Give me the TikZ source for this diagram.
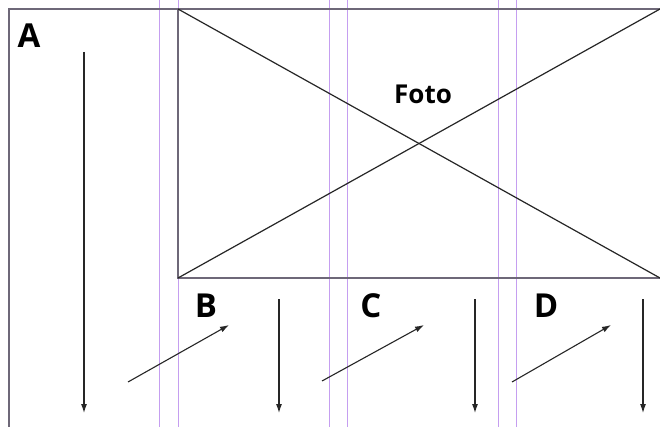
\documentclass[tikz,border=0pt]{standalone}
\usepackage{fontspec}
\setmainfont{Open Sans}
\usetikzlibrary{arrows.meta}
\definecolor{guide}{HTML}{C59EF0}
\definecolor{frame}{HTML}{6E6878}
\tikzset{
  guideline/.style={draw=guide, line width=1pt},
  frameline/.style={draw=frame, line width=1.5pt},
  crossline/.style={draw=black!85, line width=1.2pt},
  flow/.style={draw=black!85, line width=1.1pt, -{Latex[length=9pt,width=6pt]}},
  letter/.style={font=\fontsize{33}{33}\selectfont\bfseries, inner sep=0pt},
  fotolabel/.style={font=\fontsize{26}{26}\selectfont\bfseries, inner sep=0pt}
}
\begin{document}
\begin{tikzpicture}[x=1pt,y=-1pt]
\useasboundingbox[fill=white] (0,0) rectangle (660,427);
% guide lines
\foreach \gx in {159.5,178.5,329.5,347.5,498.5,516.5}{
  \draw[guideline] (\gx,0) -- (\gx,427);
}
% frame
\coordinate (fbl) at (9,427);
\coordinate (ftl) at (9,9);
\coordinate (ftr) at (660,9);
\draw[frameline] (fbl) -- (ftl) -- (ftr);
% photo box
\coordinate (ptl) at (178,9);
\coordinate (pbl) at (178,278);
\coordinate (pbr) at (660,278);
\coordinate (ptr) at (660,9);
\draw[frameline] (ptl) -- (pbl) -- (pbr);
\draw[crossline] (ptl) -- (pbr);
\draw[crossline] (pbl) -- (ptr);
% labels
\node[letter] (A) at (29,36) {A};
\node[letter] (B) at (206,306) {B};
\node[letter] (C) at (371,306) {C};
\node[letter] (D) at (546,306) {D};
\node[fotolabel] (foto) at (423,94) {Foto};
% arrows
\coordinate (a1) at (84,52);   \coordinate (a2) at (84,413);
\coordinate (b1) at (279,299); \coordinate (b2) at (279,413);
\coordinate (c1) at (475,299); \coordinate (c2) at (475,413);
\coordinate (d1) at (643,299); \coordinate (d2) at (643,413);
\draw[flow] (a1) -- (a2);
\draw[flow] (b1) -- (b2);
\draw[flow] (c1) -- (c2);
\draw[flow] (d1) -- (d2);
\coordinate (bs) at (128,382); \coordinate (be) at (229,325);
\coordinate (cs) at (322,381); \coordinate (ce) at (424,325);
\coordinate (ds) at (512,382); \coordinate (de) at (611,325);
\draw[flow] (bs) -- (be);
\draw[flow] (cs) -- (ce);
\draw[flow] (ds) -- (de);
\end{tikzpicture}
\end{document}
